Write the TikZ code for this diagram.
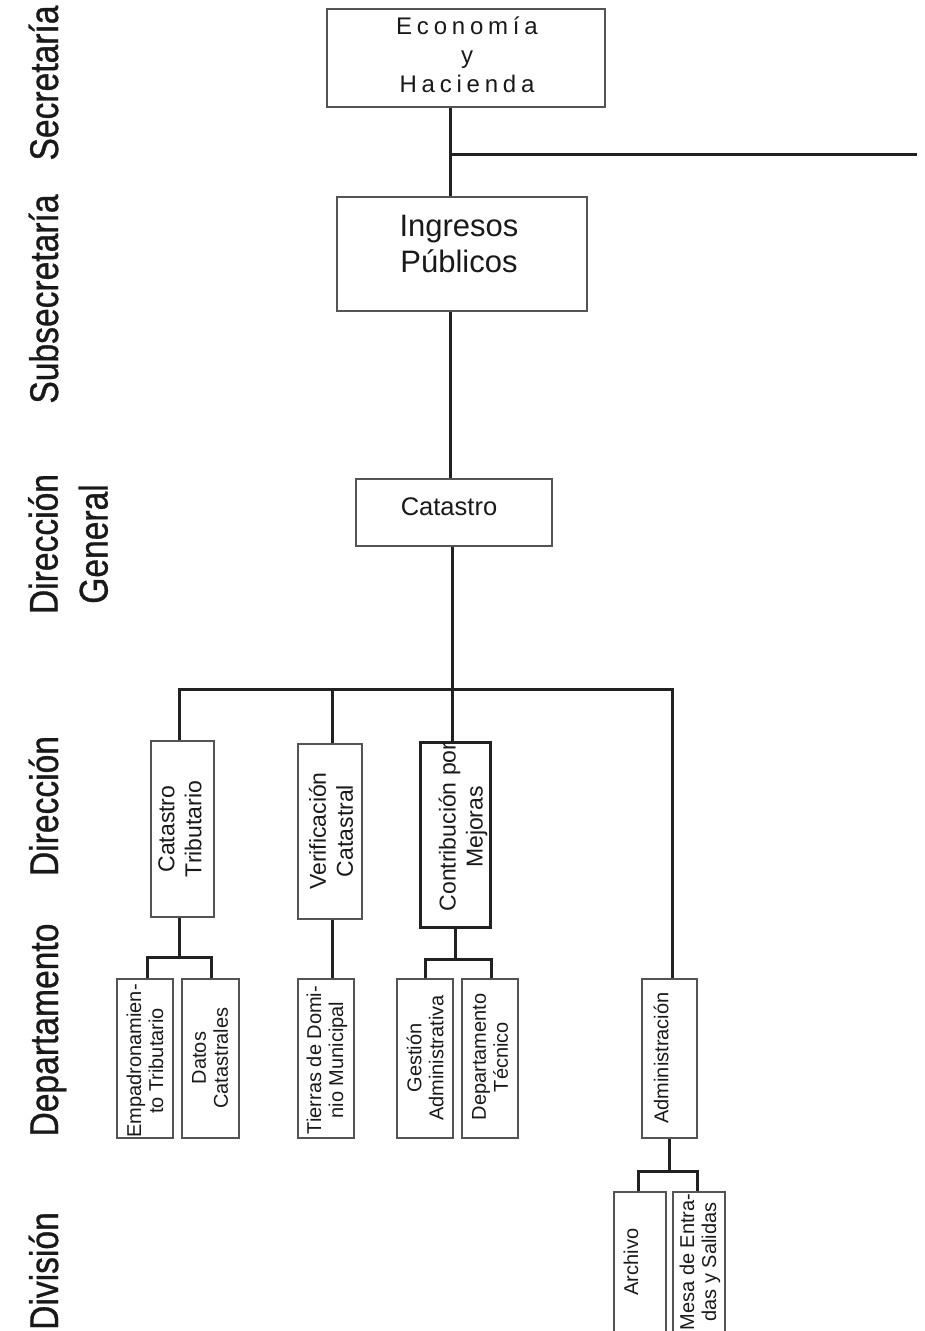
\documentclass[tikz,border=0pt]{standalone}
\usepackage{fontspec}
\setmainfont{Liberation Sans}
\newfontfamily\spacedfont[LetterSpace=20]{Liberation Sans}
\newfontfamily\levelfont[FakeStretch=0.84,FakeBold=0.8]{Liberation Sans}
\definecolor{boxgray}{rgb}{0.33,0.33,0.33}
\definecolor{linkgray}{rgb}{0.13,0.13,0.13}
\definecolor{inkgray}{rgb}{0.1,0.1,0.1}
\tikzset{
  unit/.style={draw=boxgray, line width=1.2pt, inner sep=0pt},
  boldunit/.style={unit, draw=linkgray, line width=3pt},
  link/.style={draw=linkgray, line width=3pt},
  lvl/.style={rotate=90, inner sep=0pt, text=inkgray, align=center, font={\levelfont\fontsize{40}{50}\selectfont}},
  dirtext/.style={rotate=90, inner sep=0pt, text=inkgray, align=center, font={\fontsize{23}{27}\selectfont}},
  deptext/.style={rotate=90, inner sep=0pt, text=inkgray, align=center, font={\fontsize{20}{22}\selectfont}}
}

\begin{document}
\begin{tikzpicture}[x=1pt,y=-1pt,line join=miter]
\useasboundingbox (0,0) rectangle (924,1331);
\clip (0,0) rectangle (924,1331);
% levels
\node[lvl,anchor=base] (lsec) at (58,83) {Secretaría};
\node[lvl,anchor=base] (lsub) at (58,299) {Subsecretaría};
\node[lvl] (ldg) at (68,544) {Dirección\\General};
\node[lvl,anchor=base] (ldir) at (58,806) {Dirección};
\node[lvl,anchor=base] (ldep) at (58,1030) {Departamento};
\node[lvl,anchor=base] (ldiv) at (58,1271) {División};
% boxes
\node[unit, minimum width=278pt, minimum height=98pt] (econ) at (466,58) {};
\node[inner sep=0pt, text=inkgray, align=center, font={\spacedfont\fontsize{24}{29}\selectfont}] (econT) at (467,55) {Economía\\y\\Hacienda};
\node[unit, minimum width=250pt, minimum height=114pt] (ingr) at (462,254) {};
\node[inner sep=0pt, text=inkgray, align=center, font={\fontsize{31}{36}\selectfont}] (ingrT) at (459,244) {Ingresos\\Públicos};
\node[unit, minimum width=196pt, minimum height=67pt] (cat) at (454,512.5) {};
\node[inner sep=0pt, text=inkgray, font={\fontsize{25.5}{30}\selectfont}] (catT) at (449,506.5) {Catastro};
\node[unit, minimum width=63pt, minimum height=176pt] (ctrib) at (182.5,829) {};
\node[dirtext] (ctribT) at (180,829) {Catastro\\Tributario};
\node[unit, minimum width=64pt, minimum height=175pt] (verif) at (330,831.5) {};
\node[dirtext] (verifT) at (331,831) {Verificación\\Catastral};
\node[boldunit, minimum width=70pt, minimum height=185pt] (contrib) at (455,834.5) {};
\node[dirtext] (contribT) at (463,827) {Contribución por\\Mejoras};
\node[unit, minimum width=56pt, minimum height=159pt] (emp) at (145,1058.5) {};
\node[deptext] (empT) at (145,1061) {Empadronamien-\\to Tributario};
\node[unit, minimum width=57pt, minimum height=159pt] (datos) at (210.5,1058.5) {};
\node[deptext] (datosT) at (210,1058) {Datos\\Catastrales};
\node[unit, minimum width=56pt, minimum height=159pt] (tierras) at (326,1058.5) {};
\node[deptext] (tierrasT) at (327,1060) {Tierras de Domi-\\nio Municipal};
\node[unit, minimum width=56pt, minimum height=159pt] (gestion) at (425,1058.5) {};
\node[deptext] (gestionT) at (425,1058) {Gestión\\Administrativa};
\node[unit, minimum width=56pt, minimum height=159pt] (tecnico) at (490,1058.5) {};
\node[deptext] (tecnicoT) at (490,1057) {Departamento\\Técnico};
\node[unit, minimum width=55pt, minimum height=159pt] (admin) at (669.5,1058.5) {};
\node[deptext] (adminT) at (661,1058) {Administración};
\node[unit, minimum width=52pt, minimum height=153pt] (archivo) at (640,1268.5) {};
\node[deptext] (archivoT) at (631,1262) {Archivo};
\node[unit, minimum width=52pt, minimum height=153pt] (mesa) at (699,1268.5) {};
\node[deptext] (mesaT) at (700,1262) {Mesa de Entra-\\das y Salidas};
% junctions
\coordinate (jS) at (450,154);
\coordinate (away) at (917,154);
\coordinate (jD) at (452,689);
\coordinate (jL) at (179,689);
\coordinate (jV) at (332,689);
\coordinate (jR) at (672,689);
\coordinate (bT) at (179,957);
\coordinate (bTa) at (147,957);
\coordinate (bTb) at (211,957);
\coordinate (bC) at (455,959);
\coordinate (bCa) at (425,959);
\coordinate (bCb) at (491,959);
\coordinate (bA) at (669,1171);
\coordinate (bAa) at (638,1171);
\coordinate (bAb) at (697,1171);
% connectors
\draw[link] (econ.south -| jS) -- (ingr.north -| jS);
\draw[link] (jS) -- (away);
\draw[link] (ingr.south -| jS) -- (cat.north -| jS);
\draw[link] (cat.south -| jD) -- (contrib.north -| jD);
\draw[link] (ctrib.north -| jL) -- (jL) -- (jR) -- (admin.north -| jR);
\draw[link] (jV) -- (verif.north -| jV);
\draw[link] (ctrib.south -| bT) -- (bT);
\draw[link] (emp.north -| bTa) -- (bTa) -- (bTb) -- (datos.north -| bTb);
\draw[link] (verif.south -| jV) -- (tierras.north -| jV);
\draw[link] (contrib.south -| bC) -- (bC);
\draw[link] (gestion.north -| bCa) -- (bCa) -- (bCb) -- (tecnico.north -| bCb);
\draw[link] (admin.south -| bA) -- (bA);
\draw[link] (archivo.north -| bAa) -- (bAa) -- (bAb) -- (mesa.north -| bAb);
\end{tikzpicture}
\end{document}
